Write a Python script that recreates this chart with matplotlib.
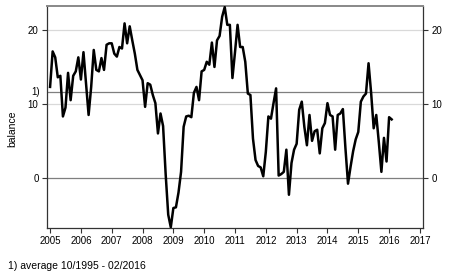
import numpy as np
import matplotlib
matplotlib.use("Agg")
import matplotlib.pyplot as plt
import matplotlib.transforms as mtransforms

plt.rcParams["font.family"] = ["Liberation Sans", "DejaVu Sans"]

# monthly balance, Jan 2005 - Feb 2016
balance = [
    12.3, 17.1, 16.3, 13.6, 13.8, 8.3, 9.5, 14.2, 10.5, 13.8, 14.4, 16.3,   # 2005
    13.3, 17.0, 12.8, 8.5, 12.3, 17.3, 14.6, 14.4, 16.2, 14.6, 18.0, 18.2,  # 2006
    18.2, 16.8, 16.4, 17.7, 17.5, 20.9, 18.2, 20.5, 18.6, 16.8, 14.6, 13.9, # 2007
    13.2, 9.6, 12.8, 12.6, 11.2, 10.1, 6.0, 8.7, 7.0, 0.5, -5.0, -6.7,      # 2008
    -4.1, -4.0, -2.0, 0.8, 6.9, 8.3, 8.4, 8.2, 11.5, 12.3, 10.5, 14.4,      # 2009
    14.6, 15.7, 15.3, 18.3, 15.0, 18.6, 19.2, 21.8, 23.1, 20.7, 20.7, 13.5, # 2010
    17.0, 20.7, 17.7, 17.7, 15.7, 11.4, 11.2, 5.3, 2.4, 1.6, 1.4, 0.2,      # 2011
    3.5, 8.3, 8.0, 10.1, 12.1, 0.3, 0.5, 0.8, 3.8, -2.3, 2.0, 3.8,          # 2012
    4.6, 9.2, 10.3, 6.9, 4.4, 8.5, 5.0, 6.3, 6.5, 3.3, 6.7, 7.4,            # 2013
    10.1, 8.5, 8.3, 3.8, 8.5, 8.7, 9.3, 4.0, -0.8, 1.5, 3.6, 5.2,           # 2014
    6.2, 10.3, 11.0, 11.4, 15.5, 11.5, 6.7, 8.5, 4.8, 0.8, 5.4, 2.2,        # 2015
    8.2, 7.9,                                                               # 2016
]
start_year = 2005
average = 11.66  # average 10/1995 - 02/2016

year_ticks = list(range(2005, 2018))
y_ticks = [0, 10, 20]

t = start_year + np.arange(len(balance)) / 12.0

fig = plt.figure(figsize=(4.5, 2.77), dpi=100)
ax = fig.add_axes([47 / 450, 1 - 228 / 277, 376 / 450, 222 / 277])

for v in [10, 20]:
    ax.axhline(v, color="#d9d9d9", lw=0.9, zorder=1)
ax.axhline(0, color="#7f7f7f", lw=0.9, zorder=2)
ax.axhline(average, color="#7f7f7f", lw=0.9, zorder=2)

ax.plot(t, balance, color="black", lw=1.8, zorder=3)

ax.set_xlim(2004.9, 2017.1)
ax.set_ylim(-6.8, 23.25)
ax.set_xticks(year_ticks)
ax.set_xticklabels([str(y) for y in year_ticks])
ax.set_yticks(y_ticks)
ax.tick_params(axis="both", direction="out", length=3.6, width=0.8,
               color="#333333", labelsize=7, pad=2.5)
ax.tick_params(axis="y", right=True, labelright=True)

for side in ["left", "right", "bottom"]:
    ax.spines[side].set_color("#333333")
    ax.spines[side].set_linewidth(0.9)
ax.spines["top"].set_color("#888888")
ax.spines["top"].set_linewidth(1.4)

trans = mtransforms.blended_transform_factory(ax.transAxes, ax.transData)
ax.text(-0.019, average, "1)", transform=trans, ha="right", va="center",
        fontsize=7)

ax.set_ylabel("balance", fontsize=7.5)
ax.yaxis.set_label_coords(-0.08, 0.445)

fig.text(8 / 450, 1 - 266 / 277, "1) average 10/1995 - 02/2016",
         fontsize=7.5, ha="left", va="center")

fig.savefig("out.png", dpi=100)
